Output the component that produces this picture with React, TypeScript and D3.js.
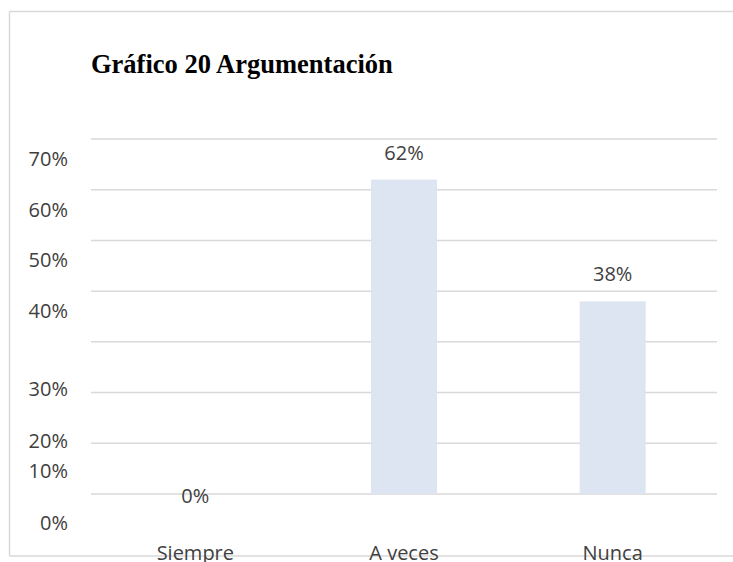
import React from "react";
import * as d3 from "d3";

const categories = ["Siempre", "A veces", "Nunca"];
const values = [0, 0.62, 0.38];
const valueLabels = ["0%", "62%", "38%"];
const tickValues = [0, 0.1, 0.2, 0.3, 0.4, 0.5, 0.6, 0.7];
const tickLabels = ["0%", "10%", "20%", "30%", "40%", "50%", "60%", "70%"];
const title = "Gráfico 20 Argumentación";

const W = 733;
const H = 562;
const plot = { left: 91, right: 717, top: 139, bottom: 494 };
// The reference's axis labels are drawn offset from their gridlines; this piecewise scale reproduces that layout.
const labelBaselines = [530, 478, 448, 396, 318, 267, 217, 166];

export default function App() {
  const x = d3
    .scaleBand<string>()
    .domain(categories)
    .range([plot.left, plot.right])
    .paddingInner(0.684)
    .paddingOuter(0.342);
  const y = d3.scaleLinear().domain([0, 0.7]).range([plot.bottom, plot.top]);
  const labelY = d3.scaleLinear().domain(tickValues).range(labelBaselines);

  const grid = "#d9d9d9";
  const textColor = "#404040";
  const font = "'Open Sans', sans-serif";

  return (
    <svg
      width={W}
      height={H}
      style={{ position: "absolute", left: 0, top: 0, background: "#fff" }}
    >
      {/* outer frame */}
      <line x1={9.5} x2={W} y1={11.5} y2={11.5} stroke={grid} strokeWidth={1.5} />
      <line x1={9.5} x2={9.5} y1={11.5} y2={556} stroke={grid} strokeWidth={1.5} />
      <line x1={9.5} x2={W} y1={556} y2={556} stroke={grid} strokeWidth={1.5} />

      <text
        x={91}
        y={73}
        fontFamily="'Liberation Serif', 'Times New Roman', serif"
        fontWeight="bold"
        fontSize={26.5}
        fill="#000"
      >
        {title}
      </text>

      {/* gridlines */}
      {tickValues.map((t) => (
        <line
          key={t}
          x1={plot.left}
          x2={plot.right}
          y1={y(t)}
          y2={y(t)}
          stroke={grid}
          strokeWidth={1.5}
        />
      ))}

      {/* y tick labels */}
      {tickValues.map((t, i) => (
        <text
          key={"l" + t}
          x={68}
          y={labelY(t)}
          textAnchor="end"
          fontFamily={font}
          fontSize={20}
          fill={textColor}
        >
          {tickLabels[i]}
        </text>
      ))}

      {/* bars */}
      {categories.map((c, i) => (
        <rect
          key={c}
          x={x(c)!}
          y={y(values[i])}
          width={x.bandwidth()}
          height={y(0) - y(values[i])}
          fill="#dee5f2"
        />
      ))}

      {/* data labels */}
      {categories.map((c, i) => (
        <text
          key={"d" + c}
          x={x(c)! + x.bandwidth() / 2}
          y={values[i] === 0 ? y(0) + 9 : y(values[i]) - 20}
          textAnchor="middle"
          fontFamily={font}
          fontSize={20}
          fill={textColor}
        >
          {valueLabels[i]}
        </text>
      ))}

      {/* category labels */}
      {categories.map((c) => (
        <text
          key={"c" + c}
          x={x(c)! + x.bandwidth() / 2}
          y={560}
          textAnchor="middle"
          fontFamily={font}
          fontSize={20}
          fill={textColor}
        >
          {c}
        </text>
      ))}
    </svg>
  );
}
